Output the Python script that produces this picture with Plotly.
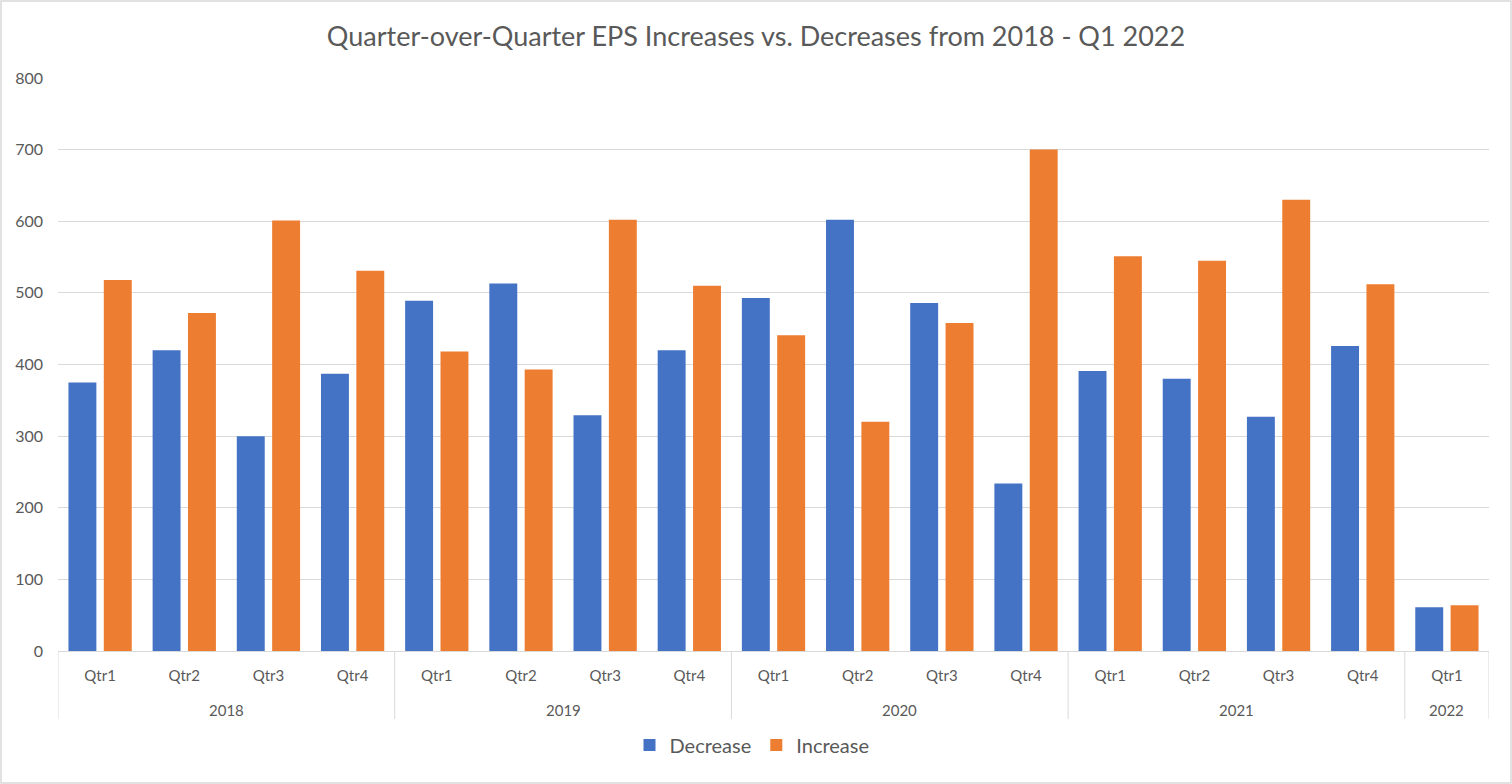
import plotly.graph_objects as go

years = ["2018"] * 4 + ["2019"] * 4 + ["2020"] * 4 + ["2021"] * 4 + ["2022"]
quarters = ["Qtr1", "Qtr2", "Qtr3", "Qtr4"] * 4 + ["Qtr1"]
decrease = [375, 420, 300, 387, 489, 513, 329, 420, 493, 602, 486, 234, 391, 380, 327, 426, 61]
increase = [518, 472, 601, 531, 418, 393, 602, 510, 441, 320, 458, 700, 551, 545, 630, 512, 64]

BLUE = "#4472C4"
ORANGE = "#ED7D31"
GRID = "#D9D9D9"
TEXT = "#595959"
FONT = "Lato, 'Open Sans', sans-serif"

idx = list(range(len(quarters)))

fig = go.Figure()
fig.add_trace(go.Bar(x=idx, y=decrease, name="Decrease", marker_color=BLUE, marker_line_width=0))
fig.add_trace(go.Bar(x=idx, y=increase, name="Increase", marker_color=ORANGE, marker_line_width=0))

W, H = 1512, 784
ml, mr, mt, mb = 58, 23, 78, 133
pw, ph = W - ml - mr, H - mt - mb

fig.update_layout(
    width=W, height=H,
    margin=dict(l=ml, r=mr, t=mt, b=mb, pad=0),
    paper_bgcolor="white", plot_bgcolor="white",
    barmode="group", bargap=0.16, bargroupgap=0.21,
    font=dict(family=FONT, size=15, color=TEXT),
    title=dict(text="Quarter-over-Quarter EPS Increases vs. Decreases from 2018 - Q1 2022",
               x=0.5, xanchor="center", y=1 - 37 / H, yanchor="middle",
               font=dict(family=FONT, size=27, color=TEXT)),
    legend=dict(orientation="h", x=(752 - ml) / pw, xanchor="center", y=-(745 - mt - ph) / ph,
                yanchor="middle", font=dict(size=20, color=TEXT), itemwidth=30),
    showlegend=True,
)
fig.update_yaxes(range=[0, 800], dtick=100, showgrid=True, gridcolor=GRID, gridwidth=1,
                 zeroline=False, showline=False, ticks="", tickfont=dict(size=16, color=TEXT),
                 ticklabelstandoff=14)
fig.update_xaxes(range=[-0.5, len(idx) - 0.5], tickmode="array", tickvals=idx, ticktext=quarters,
                 showline=True, linecolor=GRID, linewidth=1, showgrid=False, zeroline=False,
                 ticks="", tickfont=dict(size=15, color=TEXT), ticklabelstandoff=11)

# year group labels and dividers, derived from the data
groups = []
for i, y in enumerate(years):
    if groups and groups[-1][0] == y:
        groups[-1][2] = i
    else:
        groups.append([y, i, i])

div_bottom = -(719 - mt - ph) / ph
year_y = -(710 - mt - ph) / ph
bounds = sorted({g[1] - 0.5 for g in groups} | {g[2] + 0.5 for g in groups})
for b in bounds:
    fig.add_shape(type="line", xref="x", yref="paper", x0=b, x1=b, y0=0, y1=div_bottom,
                  line=dict(color=GRID, width=1))
for name, a, b in groups:
    fig.add_annotation(x=(a + b) / 2, xref="x", y=year_y, yref="paper", text=name,
                       showarrow=False, yanchor="middle", font=dict(size=15, color=TEXT))

# outer chart border
fig.add_shape(type="rect", xref="paper", yref="paper",
              x0=-(ml - 1) / pw, x1=1 + (mr - 1) / pw,
              y0=-(mb - 1) / ph, y1=1 + (mt - 1) / ph,
              line=dict(color=GRID, width=1.5), fillcolor="rgba(0,0,0,0)", layer="below")

fig.write_html("out.html", config={"displayModeBar": False},
               post_script="document.body.style.margin='0';")
